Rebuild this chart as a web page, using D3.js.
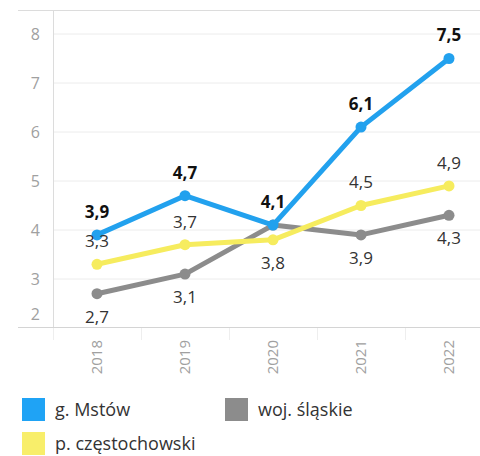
<!DOCTYPE html>
<html>
<head>
<meta charset="utf-8">
<script src="https://cdn.jsdelivr.net/npm/d3@7/dist/d3.min.js"></script>
<style>
  body { margin: 0; background: #fff; }
  svg { display: block; font-family: "Open Sans", "Noto Sans", sans-serif; }
</style>
</head>
<body>
<div id="chart"></div>
<script>
var years = ["2018", "2019", "2020", "2021", "2022"];
var seriesNames = ["g. Mstów", "p. częstochowski", "woj. śląskie"];
var mstow = [3.9, 4.7, 4.1, 6.1, 7.5];
var czestochowski = [3.3, 3.7, 3.8, 4.5, 4.9];
var slaskie = [2.7, 3.1, 4.1, 3.9, 4.3];
var yTicks = [2, 3, 4, 5, 6, 7, 8];

var width = 480, height = 456;
var svg = d3.select("#chart").append("svg")
    .attr("width", width)
    .attr("height", height);

var plotLeft = 53, plotRight = 480, plotTop = 10, plotBottom = 328;

var x = d3.scaleBand()
    .domain(years)
    .range([plotLeft, plotLeft + 440]);

var y = d3.scaleLinear()
    .domain([2, 8])
    .range([plotBottom, 34]);

function cx(i) { return x(years[i]) + x.bandwidth() / 2; }

// gridlines
svg.append("g")
    .selectAll("line")
    .data(yTicks.filter(function (d) { return d > 2; }))
    .enter().append("line")
    .attr("x1", plotLeft).attr("x2", plotRight)
    .attr("y1", function (d) { return y(d); })
    .attr("y2", function (d) { return y(d); })
    .attr("stroke", "#ececec")
    .attr("stroke-width", 1);

// frame lines
svg.append("line")
    .attr("x1", 18).attr("x2", plotRight)
    .attr("y1", plotTop + 0.5).attr("y2", plotTop + 0.5)
    .attr("stroke", "#dcdcdc");
svg.append("line")
    .attr("x1", plotLeft + 0.5).attr("x2", plotLeft + 0.5)
    .attr("y1", plotTop).attr("y2", plotBottom)
    .attr("stroke", "#dcdcdc");
svg.append("line")
    .attr("x1", 18).attr("x2", plotRight)
    .attr("y1", plotBottom - 0.5).attr("y2", plotBottom - 0.5)
    .attr("stroke", "#d4d4d4");

// y axis labels
svg.append("g")
    .selectAll("text")
    .data(yTicks)
    .enter().append("text")
    .attr("x", 40)
    .attr("y", function (d) { return d === 2 ? y(d) - 14 : y(d); })
    .attr("dy", "0.35em")
    .attr("text-anchor", "end")
    .attr("fill", "#a0a0a0")
    .style("font-size", "16px")
    .text(function (d) { return d; });

// x band separators below axis
svg.append("g")
    .selectAll("line")
    .data(years)
    .enter().append("line")
    .attr("x1", function (d) { return x(d) + 0.5; })
    .attr("x2", function (d) { return x(d) + 0.5; })
    .attr("y1", plotBottom).attr("y2", plotBottom + 12)
    .attr("stroke", "#eeeeee");

// x axis labels
svg.append("g")
    .selectAll("text")
    .data(years)
    .enter().append("text")
    .attr("transform", function (d) {
        return "translate(" + (x(d) + x.bandwidth() / 2) + "," + (plotBottom + 12) + ") rotate(-90)";
    })
    .attr("dy", "0.35em")
    .attr("text-anchor", "end")
    .attr("fill", "#a0a0a0")
    .style("font-size", "15px")
    .text(function (d) { return d; });

var series = [
    { name: seriesNames[2], values: slaskie, color: "#8c8c8c", bold: false, side: [1, 1, 0, 1, 1] },
    { name: seriesNames[1], values: czestochowski, color: "#f6ec5e", bold: false, side: [-1, -1, 1, -1, -1] },
    { name: seriesNames[0], values: mstow, color: "#22a1ee", bold: true, side: [-1, -1, -1, -1, -1] }
];

var line = d3.line()
    .x(function (d, i) { return cx(i); })
    .y(function (d) { return y(d); });

series.forEach(function (s) {
    svg.append("path")
        .datum(s.values)
        .attr("fill", "none")
        .attr("stroke", s.color)
        .attr("stroke-width", 5)
        .attr("stroke-linejoin", "round")
        .attr("d", line);

    svg.append("g")
        .selectAll("circle")
        .data(s.values)
        .enter().append("circle")
        .attr("cx", function (d, i) { return cx(i); })
        .attr("cy", function (d) { return y(d); })
        .attr("r", 5.5)
        .attr("fill", s.color);
});

// data labels
series.forEach(function (s) {
    var pts = s.values.map(function (v, i) { return { v: v, i: i, side: s.side[i] }; })
        .filter(function (p) { return p.side !== 0; });
    svg.append("g")
        .selectAll("text")
        .data(pts)
        .enter().append("text")
        .attr("x", function (p) { return cx(p.i); })
        .attr("y", function (p) { return y(p.v) + p.side * 23; })
        .attr("dy", "0.35em")
        .attr("text-anchor", "middle")
        .attr("fill", s.bold ? "#111" : "#333")
        .style("font-size", "17px")
        .style("font-weight", s.bold ? "bold" : "normal")
        .text(function (p) { return String(p.v).replace(".", ","); });
});

// legend
var legendItems = [
    { name: seriesNames[0], color: "#1fa3f5", x: 22, y: 398 },
    { name: seriesNames[2], color: "#8c8c8c", x: 225, y: 398 },
    { name: seriesNames[1], color: "#f8ee6a", x: 22, y: 432 }
];
var legend = svg.append("g").selectAll("g")
    .data(legendItems)
    .enter().append("g")
    .attr("transform", function (d) { return "translate(" + d.x + "," + d.y + ")"; });
legend.append("rect")
    .attr("width", 23).attr("height", 23)
    .attr("fill", function (d) { return d.color; });
legend.append("text")
    .attr("x", 33).attr("y", 12)
    .attr("dy", "0.35em")
    .attr("fill", "#333")
    .style("font-size", "18px")
    .text(function (d) { return d.name; });
</script>
</body>
</html>
